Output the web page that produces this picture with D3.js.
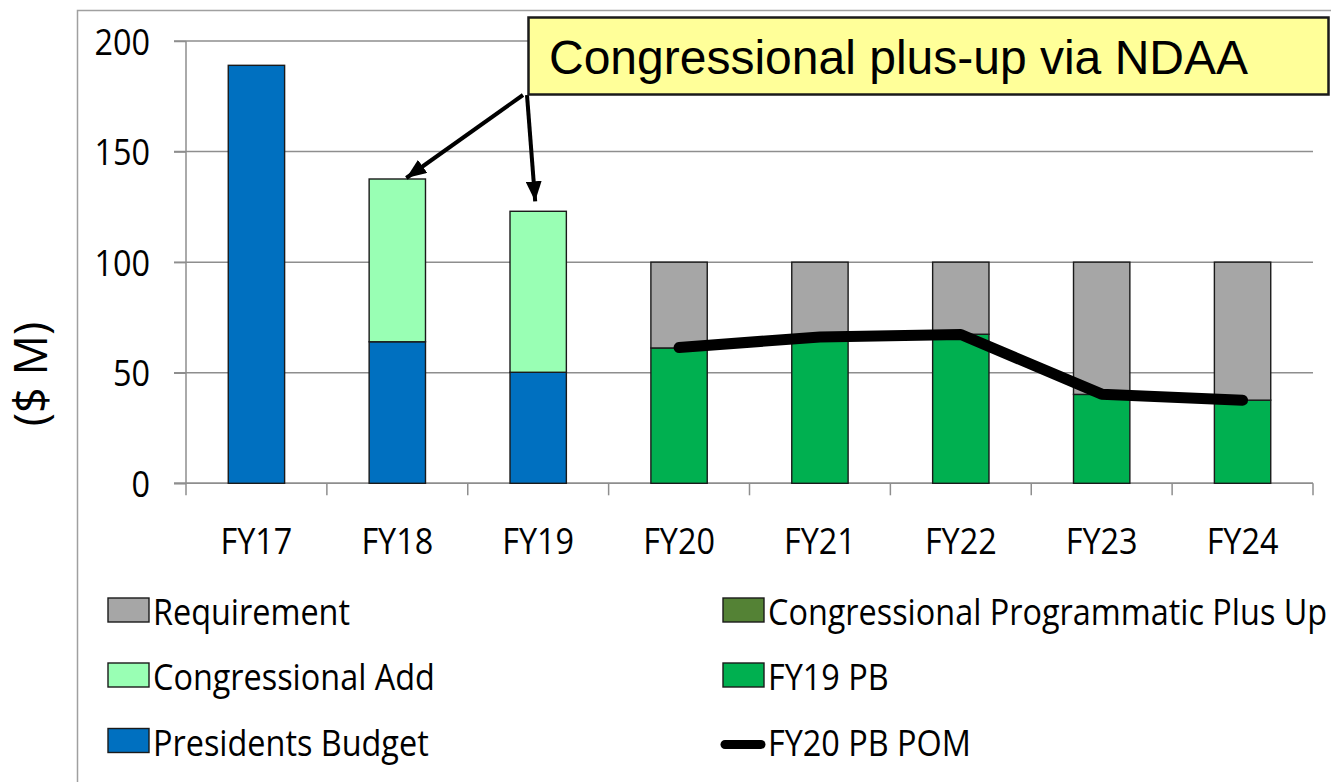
<!DOCTYPE html>
<html>
<head>
<meta charset="utf-8">
<script src="https://cdn.jsdelivr.net/npm/d3@7"></script>
<style>
  html, body { margin: 0; padding: 0; background: #ffffff; }
  svg { display: block; }
</style>
</head>
<body>
<svg id="chart" width="1331" height="782"></svg>
<script>
// ---------------- DATA ----------------
const categories = ["FY17", "FY18", "FY19", "FY20", "FY21", "FY22", "FY23", "FY24"];
const presidentsBudget = [189, 64, 50.2, 0, 0, 0, 0, 0];
const congressionalAdd = [0, 73.6, 72.8, 0, 0, 0, 0, 0];
const fy19PB = [0, 0, 0, 61.2, 66, 67.4, 40.2, 37.6];
const congProgrammaticPlusUp = [0, 0, 0, 0, 0, 0, 0, 0];
const requirement = [0, 0, 0, 38.8, 34, 32.6, 59.8, 62.4];
const fy20PBPOM = [null, null, null, 61.4, 66.2, 67.3, 40.3, 37.6];
const yTickValues = [0, 50, 100, 150, 200];
const yTitle = "($ M)";
const annotationText = "Congressional plus-up via NDAA";

const seriesKeys = ["Presidents Budget", "Congressional Add", "FY19 PB", "Congressional Programmatic Plus Up", "Requirement"];
const seriesColors = {
  "Presidents Budget": "#0070c0",
  "Congressional Add": "#99ffb4",
  "FY19 PB": "#00b050",
  "Congressional Programmatic Plus Up": "#548235",
  "Requirement": "#a6a6a6"
};

// ---------------- SETUP ----------------
const svg = d3.select("#chart");
const calFont = "'Open Sans', 'Noto Sans', sans-serif";
const sx = 0.9; // horizontal squeeze of the narrow (Calibri-like) text

const plotL = 186, plotR = 1313, yTop = 41, yBot = 483.3;
const x = d3.scaleBand().domain(categories).range([plotL, plotR]).padding(0);
const y = d3.scaleLinear().domain([0, 200]).range([yBot, yTop]);
const barW = x.bandwidth() * 0.4;
const cx = c => x(c) + x.bandwidth() / 2;

// outer chart border (extends off canvas)
svg.append("rect")
  .attr("x", 77.5).attr("y", 10.5).attr("width", 1400).attr("height", 900)
  .attr("fill", "none").attr("stroke", "#a0a0a0").attr("stroke-width", 1.5);

// gridlines
svg.append("g").selectAll("line").data(yTickValues).join("line")
  .attr("x1", plotL - 12).attr("x2", plotR)
  .attr("y1", d => y(d)).attr("y2", d => y(d))
  .attr("stroke", "#8e8e8e").attr("stroke-width", 1.5);

// y axis
const yAxis = svg.append("g").attr("transform", `translate(${plotL},0)`)
  .call(d3.axisLeft(y).tickValues(yTickValues).tickSize(12).tickPadding(24));
yAxis.select(".domain").remove();
yAxis.selectAll(".tick line").attr("stroke", "#8e8e8e").attr("stroke-width", 1.5);
yAxis.selectAll(".tick text")
  .attr("x", null).attr("dy", null)
  .attr("transform", `translate(-36,13) scale(${sx},1)`)
  .attr("font-family", calFont).attr("font-size", 36).attr("fill", "#000");
svg.append("line").attr("x1", plotL).attr("x2", plotL).attr("y1", yTop).attr("y2", yBot + 12)
  .attr("stroke", "#8e8e8e").attr("stroke-width", 1.5);

// x axis
const xAxis = svg.append("g").attr("transform", `translate(0,${yBot})`)
  .call(d3.axisBottom(x).tickSize(0).tickPadding(0));
xAxis.select(".domain").attr("d", `M${plotL - 12},0H${plotR}`).attr("stroke", "#8e8e8e").attr("stroke-width", 1.5);
xAxis.selectAll(".tick text")
  .attr("y", null).attr("dy", null)
  .attr("transform", `translate(0,71) scale(${sx},1)`)
  .attr("font-family", calFont).attr("font-size", 36).attr("fill", "#000");
const boundaries = categories.map(c => x(c)).concat([x.range()[1]]).slice(1);
svg.append("g").selectAll("line").data(boundaries).join("line")
  .attr("x1", d => d).attr("x2", d => d).attr("y1", yBot).attr("y2", yBot + 12)
  .attr("stroke", "#8e8e8e").attr("stroke-width", 1.5);

// stacked bars
const rows = categories.map((c, i) => ({
  cat: c,
  "Presidents Budget": presidentsBudget[i],
  "Congressional Add": congressionalAdd[i],
  "FY19 PB": fy19PB[i],
  "Congressional Programmatic Plus Up": congProgrammaticPlusUp[i],
  "Requirement": requirement[i]
}));
const stacked = d3.stack().keys(seriesKeys)(rows);
svg.append("g").selectAll("g").data(stacked).join("g")
  .attr("fill", d => seriesColors[d.key])
  .selectAll("rect").data(d => d.filter(s => s[1] - s[0] > 0)).join("rect")
  .attr("x", d => x(d.data.cat) + (x.bandwidth() - barW) / 2)
  .attr("width", barW)
  .attr("y", d => y(d[1]))
  .attr("height", d => y(d[0]) - y(d[1]))
  .attr("stroke", "#1a1a1a").attr("stroke-width", 1.4);

// line series
const lineData = categories.map((c, i) => ({ cat: c, v: fy20PBPOM[i] }));
svg.append("path")
  .attr("d", d3.line().defined(d => d.v != null).x(d => cx(d.cat)).y(d => y(d.v))(lineData))
  .attr("fill", "none").attr("stroke", "#000").attr("stroke-width", 11)
  .attr("stroke-linecap", "round").attr("stroke-linejoin", "round");

// y title
svg.append("text")
  .attr("transform", `translate(47,374) rotate(-90)`)
  .attr("text-anchor", "middle")
  .attr("font-family", calFont).attr("font-size", 45).attr("fill", "#000")
  .text(yTitle);

// annotation arrows
const defs = svg.append("defs");
defs.append("marker").attr("id", "ah")
  .attr("markerUnits", "userSpaceOnUse")
  .attr("viewBox", "0 0 20 16").attr("refX", 20).attr("refY", 8)
  .attr("markerWidth", 20).attr("markerHeight", 16).attr("orient", "auto")
  .append("path").attr("d", "M0,0L20,8L0,16Z").attr("fill", "#000");
const tip1 = [cx("FY18") + 9, y(presidentsBudget[1] + congressionalAdd[1]) - 1];
const tip2 = [cx("FY19") - 3, y(presidentsBudget[2] + congressionalAdd[2]) - 10];
svg.append("line").attr("x1", 523).attr("y1", 95).attr("x2", tip1[0]).attr("y2", tip1[1])
  .attr("stroke", "#000").attr("stroke-width", 4).attr("marker-end", "url(#ah)");
svg.append("line").attr("x1", 527).attr("y1", 95).attr("x2", tip2[0]).attr("y2", tip2[1])
  .attr("stroke", "#000").attr("stroke-width", 4).attr("marker-end", "url(#ah)");

// annotation box
svg.append("rect").attr("x", 528.5).attr("y", 17.5).attr("width", 800).attr("height", 77)
  .attr("fill", "#ffff99").attr("stroke", "#1a1a1a").attr("stroke-width", 2.5);
svg.append("text").attr("x", 549).attr("y", 74)
  .attr("font-family", "'Liberation Sans', Arial, sans-serif").attr("font-size", 48).attr("fill", "#000")
  .text(annotationText);

// legend
const legendItems = [
  { name: "Requirement", type: "rect", col: 0, row: 0 },
  { name: "Congressional Programmatic Plus Up", type: "rect", col: 1, row: 0 },
  { name: "Congressional Add", type: "rect", col: 0, row: 1 },
  { name: "FY19 PB", type: "rect", col: 1, row: 1 },
  { name: "Presidents Budget", type: "rect", col: 0, row: 2 },
  { name: "FY20 PB POM", type: "line", col: 1, row: 2 }
];
const colX = [108, 723];
const rowY = [610, 675, 740.5];
const lg = svg.append("g");
legendItems.forEach(it => {
  const gx = colX[it.col], gy = rowY[it.row];
  if (it.type === "rect") {
    lg.append("rect").attr("x", gx).attr("y", gy - 12).attr("width", 41).attr("height", 24)
      .attr("fill", seriesColors[it.name]).attr("stroke", "#1a1a1a").attr("stroke-width", 1.4);
  } else {
    lg.append("line").attr("x1", gx + 2).attr("x2", gx + 38).attr("y1", gy + 4).attr("y2", gy + 4)
      .attr("stroke", "#000").attr("stroke-width", 9).attr("stroke-linecap", "round");
  }
  lg.append("text")
    .attr("transform", `translate(${gx + 45},${gy + 15}) scale(${sx},1)`)
    .attr("font-family", calFont).attr("font-size", 36).attr("fill", "#000")
    .text(it.name);
});
</script>
</body>
</html>
